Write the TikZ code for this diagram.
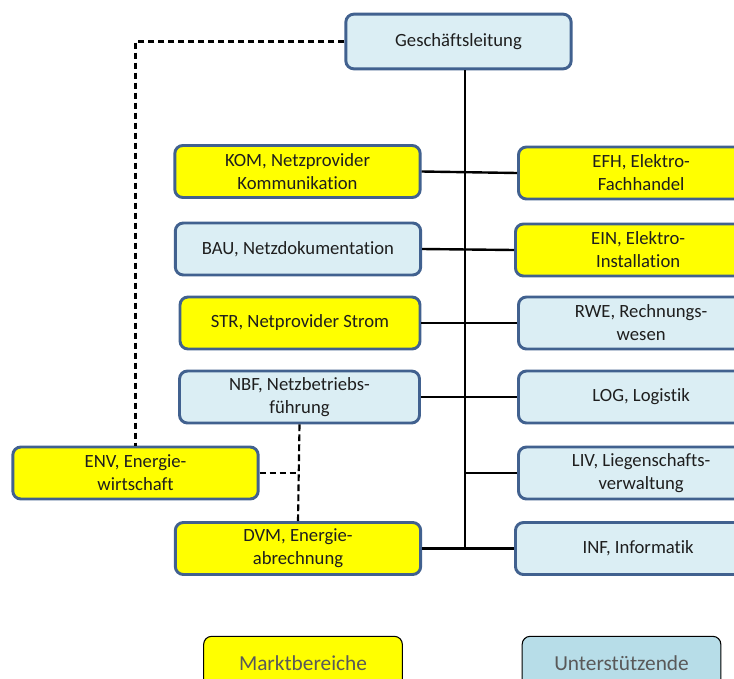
\documentclass[tikz,border=0pt]{standalone}
\usepackage{fontspec}
\setmainfont[Ligatures=NoCommon]{Carlito}
\usepackage{xcolor}
\usetikzlibrary{calc,positioning}
\definecolor{orgborder}{HTML}{41618F}
\definecolor{orgblue}{HTML}{DBEEF4}
\definecolor{orgyellow}{HTML}{FFFF00}
\definecolor{orglegend}{HTML}{B7DDE8}
\definecolor{orgtext}{HTML}{1E1E1E}
\definecolor{orggray}{HTML}{595959}

\begin{document}
\begin{tikzpicture}[x=0.75pt, y=-0.75pt,
  unit/.style={draw=orgborder, fill=#1, line width=2.2pt, rounded corners=6pt, minimum width=184pt, minimum height=39pt, align=center, text=orgtext, font=\fontsize{14}{17.25}\selectfont, inner sep=2pt},
  legend/.style={draw=black, fill=#1, line width=0.8pt, rounded corners=6pt, minimum width=149pt, minimum height=40pt, text=orggray, font=\fontsize{16}{18}\selectfont},
  conn/.style={line width=1.8pt},
  dashline/.style={line width=1.6pt, dash pattern=on 5pt off 2.5pt}
]
  \clip (0,0) rectangle (734,678);

  \node[unit=orgblue, minimum width=169pt, minimum height=41pt] (gl) at (458.5,41.5) {Geschäftsleitung};

  % linke Spalte
  \node[unit=orgyellow] (kom) at (297.5,171.5) {KOM, Netzprovider\\Kommunikation};
  \node[unit=orgblue] (bau) at (298,249) {BAU, Netzdokumentation};
  \node[unit=orgyellow, minimum width=180pt] (str) at (300,323) {STR, Netprovider Strom};
  \node[unit=orgblue, minimum width=180pt] (nbf) at (299.5,397) {NBF, Netzbetriebs-\\führung};
  \node[unit=orgyellow] (dvm) at (298,548.5) {DVM, Energie-\\abrechnung};
  \node[unit=orgyellow] (env) at (135.5,473) {ENV, Energie-\\wirtschaft};

  % rechte Spalte
  \node[unit=orgyellow, anchor=west] (efh) at (517,173) {EFH, Elektro-\\Fachhandel};
  \node[unit=orgyellow, anchor=west] (ein) at (514,250) {EIN, Elektro-\\Installation};
  \node[unit=orgblue, anchor=west] (rwe) at (517,323) {RWE, Rechnungs-\\wesen};
  \node[unit=orgblue, anchor=west] (log) at (517,397) {LOG, Logistik};
  \node[unit=orgblue, anchor=west] (liv) at (517,473) {LIV, Liegenschafts-\\verwaltung};
  \node[unit=orgblue, anchor=west] (inf) at (514,548.5) {INF, Informatik};

  % Legende
  \node[legend=orgyellow] (markt) at (303,663) {Marktbereiche};
  \node[legend=orglegend] (unter) at (621.5,663) {Unterstützende};

  % Linien
  \coordinate (trunk) at (465,548.5);
  \draw[conn] (trunk |- gl.south) -- (trunk);
  \draw[conn] (kom.east) -- (efh.west);
  \draw[conn] (bau.east) -- (ein.west);
  \draw[conn] (str.east) -- (rwe.west);
  \draw[conn] (nbf.east) -- (log.west);
  \draw[conn] (trunk |- liv.west) -- (liv.west);
  \draw[conn] (dvm.east) -- (inf.west);

  \draw[dashline] (gl.west) -| (env.north);
  \draw[dashline] (nbf.south) -- (dvm.north);
  \draw[dashline] (env.east) -- (env.east -| nbf.south);
\end{tikzpicture}
\end{document}
